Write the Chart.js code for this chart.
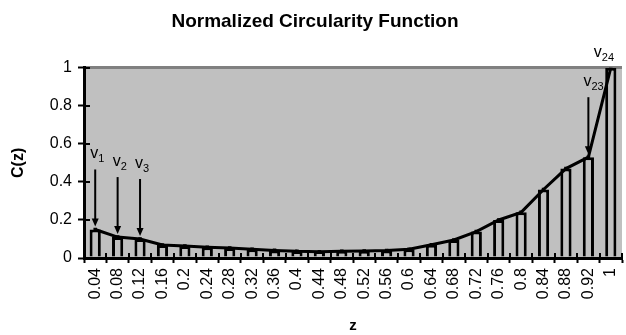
<!DOCTYPE html>
<html>
<head>
<meta charset="utf-8">
<script src="https://cdn.jsdelivr.net/npm/chart.js@4.4.1/dist/chart.umd.min.js"></script>
<style>
  html, body { margin: 0; padding: 0; background: #fff; }
  #wrap { width: 626px; height: 335px; }
</style>
</head>
<body>
<div id="wrap"><canvas id="chart"></canvas></div>
<script>
// z categories as printed under the axis (the source skips 0.96 and prints 1 on the last bar)
const zLabels = ['0.04', '0.08', '0.12', '0.16', '0.2', '0.24', '0.28', '0.32', '0.36', '0.4',
  '0.44', '0.48', '0.52', '0.56', '0.6', '0.64', '0.68', '0.72', '0.76', '0.8',
  '0.84', '0.88', '0.92', '1'];
const circularity = [0.15, 0.11, 0.10, 0.068, 0.063, 0.057, 0.053, 0.046, 0.040, 0.035,
  0.033, 0.036, 0.037, 0.039, 0.046, 0.07, 0.095, 0.139, 0.20, 0.24,
  0.36, 0.47, 0.53, 1.0];
const yTickValues = [0, 0.2, 0.4, 0.6, 0.8, 1];

// marked vertices: bar index, subscript, arrow or not
const markIndex = [0, 1, 2, 22, 23];
const markSub = ['1', '2', '3', '23', '24'];
const markArrow = [true, true, true, true, false];

Chart.defaults.font.family = '"Liberation Sans", Arial, sans-serif';

const plotBg = {
  id: 'plotBg',
  beforeDraw(chart) {
    const { ctx, chartArea: a } = chart;
    ctx.save();
    ctx.fillStyle = '#c0c0c0';
    ctx.fillRect(a.left, a.top, a.right - a.left, a.bottom - a.top);
    ctx.restore();
  }
};

// tick marks cross the axis lines, so draw the inner half here
const innerTicks = {
  id: 'innerTicks',
  afterDatasetsDraw(chart) {
    const { ctx, chartArea: a, scales: { x, y } } = chart;
    ctx.save();
    ctx.strokeStyle = '#000';
    ctx.lineWidth = 2;
    ctx.beginPath();
    for (let i = 0; i <= zLabels.length; i++) {
      const px = Math.round(x.getPixelForValue(i - 0.5));
      ctx.moveTo(px, a.bottom);
      ctx.lineTo(px, a.bottom - 5);
    }
    yTickValues.forEach(v => {
      const py = Math.round(y.getPixelForValue(v));
      ctx.moveTo(a.left, py);
      ctx.lineTo(a.left + 6, py);
    });
    ctx.stroke();
    ctx.restore();
  }
};

const marks = {
  id: 'marks',
  afterDatasetsDraw(chart) {
    const { ctx, chartArea: a, scales: { x, y } } = chart;
    ctx.save();
    ctx.fillStyle = '#000';
    ctx.strokeStyle = '#000';
    markIndex.forEach((idx, k) => {
      const px = x.getPixelForValue(idx);
      let base, left;
      if (markArrow[k]) {
        const tip = y.getPixelForValue(circularity[idx]) - 3;
        const top = tip - 57;
        ctx.lineWidth = 2;
        ctx.beginPath();
        ctx.moveTo(px, top);
        ctx.lineTo(px, tip - 6);
        ctx.stroke();
        ctx.beginPath();
        ctx.moveTo(px - 3.5, tip - 8);
        ctx.lineTo(px + 3.5, tip - 8);
        ctx.lineTo(px, tip);
        ctx.closePath();
        ctx.fill();
        base = top - 11;
        left = px - 5;
      } else {
        base = a.top - 11;
        left = px - 17;
      }
      ctx.textAlign = 'left';
      ctx.textBaseline = 'alphabetic';
      ctx.font = '16px "Liberation Sans", Arial, sans-serif';
      ctx.fillText('v', left, base);
      const w = ctx.measureText('v').width;
      ctx.font = '11px "Liberation Sans", Arial, sans-serif';
      ctx.fillText(markSub[k], left + w, base + 4);
    });
    ctx.restore();
  }
};

const chart = new Chart(document.getElementById('chart'), {
  type: 'bar',
  data: {
    labels: zLabels,
    datasets: [
      {
        type: 'line',
        data: circularity,
        borderColor: '#000',
        borderWidth: 3,
        pointStyle: 'rect',
        pointRadius: 2.5,
        pointBackgroundColor: '#000',
        pointBorderWidth: 0,
        tension: 0,
        order: 0
      },
      {
        type: 'bar',
        data: circularity,
        backgroundColor: '#c0c0c0',
        borderColor: '#000',
        borderWidth: 3,
        barPercentage: 0.5,
        categoryPercentage: 1,
        order: 1
      }
    ]
  },
  options: {
    responsive: true,
    maintainAspectRatio: false,
    animation: false,
    layout: { padding: { left: 0, top: 0, bottom: 0, right: 0 } },
    plugins: {
      legend: { display: false },
      tooltip: { enabled: false },
      title: {
        display: true,
        text: 'Normalized Circularity Function',
        color: '#000',
        font: { size: 19, weight: 'bold' },
        padding: { top: 10, bottom: 35 }
      }
    },
    scales: {
      x: {
        grid: { drawOnChartArea: false, tickLength: 5, tickColor: '#000', tickWidth: 2 },
        border: { color: '#000', width: 3 },
        ticks: { autoSkip: false, maxRotation: 90, minRotation: 90, padding: 5, color: '#000', font: { size: 16 } },
        title: { display: true, text: 'z', color: '#000', font: { size: 15, weight: 'bold' }, padding: 0 },
        afterFit(s) { s.height = 77; s.paddingLeft = 0; s.paddingRight = 0; }
      },
      y: {
        min: 0,
        max: 1,
        afterBuildTicks(s) { s.ticks = yTickValues.map(v => ({ value: v })); },
        grid: {
          color: c => (c.tick && c.tick.value === 1 ? '#808080' : 'rgba(0,0,0,0)'),
          lineWidth: 3,
          tickLength: 6,
          tickColor: '#000',
          tickWidth: 2
        },
        border: { color: '#000', width: 3 },
        ticks: { padding: 6, color: '#000', font: { size: 16 }, callback: v => String(v) },
        title: { display: true, text: 'C(z)', color: '#000', font: { size: 16, weight: 'bold' }, padding: { top: 9, bottom: 0 } },
        afterFit(s) { s.width = 84; s.paddingTop = 0; s.paddingBottom = 0; }
      }
    }
  },
  plugins: [plotBg, innerTicks, marks]
});

// the plot runs to the right edge of the picture
const gap = chart.width - chart.chartArea.right;
if (gap !== 0) {
  chart.options.layout.padding.right -= gap;
  chart.update();
}
</script>
</body>
</html>
